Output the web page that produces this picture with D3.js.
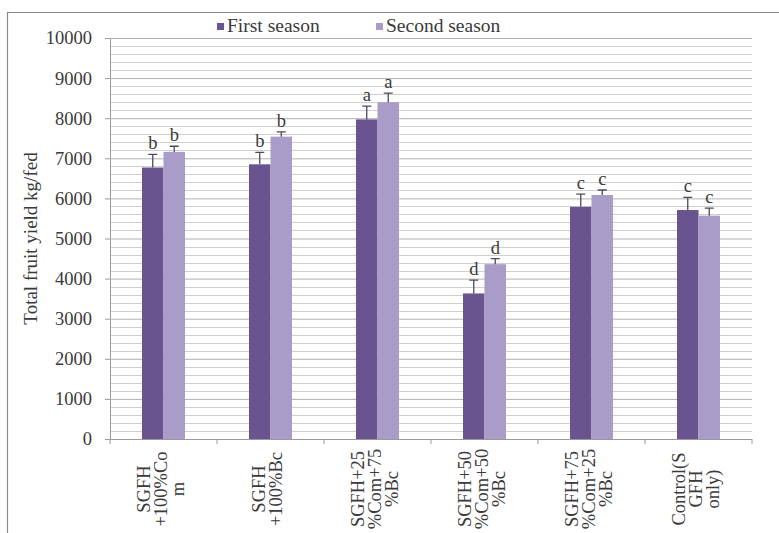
<!DOCTYPE html>
<html>
<head>
<meta charset="utf-8">
<script src="https://cdn.jsdelivr.net/npm/d3@7"></script>
<style>
  html, body { margin: 0; padding: 0; background: #fff; }
  svg { display: block; }
  svg text { font-family: "Liberation Serif", "DejaVu Serif", serif !important; fill: #3a3a3a; }
</style>
</head>
<body>
<svg id="chart" width="779" height="533"></svg>
<script>
// Treatments (each label split into its wrapped lines)
const categories = [
  ["SGFH", "+100%Co", "m"],
  ["SGFH", "+100%Bc"],
  ["SGFH+25", "%Com+75", "%Bc"],
  ["SGFH+50", "%Com+50", "%Bc"],
  ["SGFH+75", "%Com+25", "%Bc"],
  ["Control(S", "GFH", "only)"]
];
const seriesNames = ["First season", "Second season"];
const firstSeason  = [6770, 6850, 7970, 3630, 5790, 5710];
const secondSeason = [7160, 7540, 8400, 4360, 6085, 5570];
const firstError   = [330, 300, 330, 330, 315, 315];
const secondError  = [140, 120, 225, 140, 125, 185];
const firstLetters  = ["b", "b", "a", "d", "c", "c"];
const secondLetters = ["b", "b", "a", "d", "c", "c"];
const yTicks = [0, 1000, 2000, 3000, 4000, 5000, 6000, 7000, 8000, 9000, 10000];
const yTitle = "Total fruit yield kg/fed";

const colors = ["#6a5490", "#aa9cc8"];

const svg = d3.select("#chart");
const plotLeft = 110, plotRight = 752, plotTop = 38, plotBottom = 439;

// outer frame
svg.append("path")
  .attr("d", `M7.5,540 V12.5 H790`)
  .attr("fill", "none").attr("stroke", "#8a8a8a").attr("stroke-width", 1.2);

const y = d3.scaleLinear().domain([0, 10000]).range([plotBottom, plotTop]);
const idx = categories.map((d, i) => i);
const x = d3.scaleBand().domain(idx).range([plotLeft, plotRight]).padding(0);
const barW = 21.5;

// gridlines: minor every 200, major every 1000
const minor = d3.range(200, 10001, 200).filter(v => v % 1000 !== 0);
svg.append("g").selectAll("line").data(minor).join("line")
  .attr("x1", plotLeft).attr("x2", plotRight)
  .attr("y1", d => Math.round(y(d)) + 0.5).attr("y2", d => Math.round(y(d)) + 0.5)
  .attr("stroke", "#cfcfcf").attr("stroke-width", 1);

// y axis with major gridlines
const yAxis = d3.axisLeft(y).tickValues(yTicks).tickSize(5).tickPadding(13)
  .tickFormat(d3.format("d"));
const gy = svg.append("g").attr("transform", `translate(${plotLeft},0)`).call(yAxis);
gy.select(".domain").attr("stroke", "#9a9a9a");
gy.selectAll(".tick line").attr("stroke", "#9a9a9a");
gy.selectAll(".tick text").attr("font-size", 18.5).attr("fill", "#3a3a3a");
gy.selectAll(".tick").filter(d => d > 0).append("line")
  .attr("x1", 0).attr("x2", plotRight - plotLeft)
  .attr("stroke", "#b0b0b0");

// x baseline and category ticks
svg.append("line").attr("x1", plotLeft).attr("x2", plotRight)
  .attr("y1", plotBottom + 0.5).attr("y2", plotBottom + 0.5).attr("stroke", "#9a9a9a");
svg.append("g").selectAll("line").data(d3.range(categories.length + 1)).join("line")
  .attr("x1", d => plotLeft + d * x.bandwidth()).attr("x2", d => plotLeft + d * x.bandwidth())
  .attr("y1", plotBottom).attr("y2", plotBottom + 5).attr("stroke", "#9a9a9a");

// bars
const series = [
  { values: firstSeason, err: firstError, letters: firstLetters, offset: -barW },
  { values: secondSeason, err: secondError, letters: secondLetters, offset: 0 }
];
series.forEach((s, si) => {
  const g = svg.append("g");
  const cx = i => x(i) + x.bandwidth() / 2 + s.offset;
  g.selectAll("rect").data(s.values).join("rect")
    .attr("x", (d, i) => cx(i))
    .attr("y", d => y(d))
    .attr("width", barW)
    .attr("height", d => plotBottom - y(d))
    .attr("fill", colors[si]);
  // error bars (upper half)
  g.selectAll("path.err").data(s.values).join("path")
    .attr("class", "err")
    .attr("d", (d, i) => {
      const mx = cx(i) + barW / 2;
      const yt = y(d + s.err[i]);
      return `M${mx},${y(d)} V${yt} M${mx - 4.5},${yt} H${mx + 4.5}`;
    })
    .attr("fill", "none").attr("stroke", "#4a4a5a").attr("stroke-width", 1.3);
  // significance letters
  g.selectAll("text").data(s.values).join("text")
    .attr("x", (d, i) => cx(i) + barW / 2)
    .attr("y", (d, i) => y(d + s.err[i]) - 5)
    .attr("text-anchor", "middle")
    .attr("font-size", 18.5)
    .text((d, i) => s.letters[i]);
});

// category labels (rotated, wrapped lines centred)
const lineGap = 17;
categories.forEach((lines, i) => {
  const cx = x(i) + x.bandwidth() / 2 - 3;
  const n = lines.length;
  lines.forEach((t, li) => {
    const lx = cx + (li - (n - 1) / 2) * lineGap + 6;
    svg.append("text")
      .attr("transform", `translate(${lx},489) rotate(-90)`)
      .attr("text-anchor", "middle")
      .attr("font-size", 18.5)
      .text(t);
  });
});

// y axis title
svg.append("text")
  .attr("transform", `translate(37,${(plotTop + plotBottom) / 2}) rotate(-90)`)
  .attr("text-anchor", "middle")
  .attr("font-size", 19)
  .text(yTitle);

// legend
const legendX = [217, 376];
seriesNames.forEach((name, i) => {
  svg.append("rect").attr("x", legendX[i]).attr("y", 23).attr("width", 7).attr("height", 7)
    .attr("fill", colors[i]);
  svg.append("text").attr("x", legendX[i] + 10).attr("y", 32)
    .attr("font-size", 19.5).text(name);
});
</script>
</body>
</html>
